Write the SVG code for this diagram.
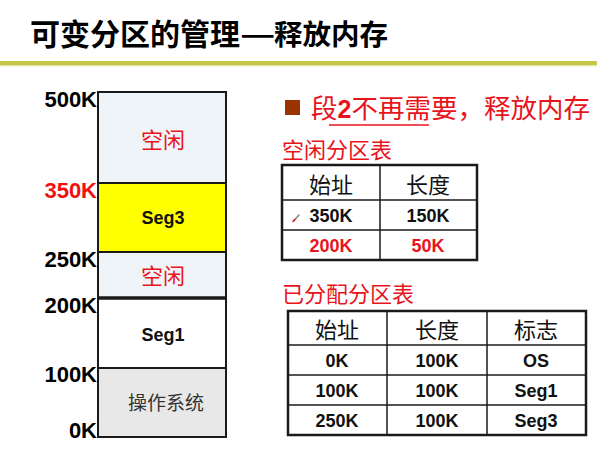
<svg xmlns="http://www.w3.org/2000/svg" width="597" height="468" viewBox="0 0 597 468">
  <style>
    .cjk { font-family: "Noto Sans CJK SC", "Liberation Sans", sans-serif; }
    .lat { font-family: "Liberation Sans", Arial, sans-serif; font-weight: bold; }
    .addr { font-size: 22px; text-anchor: end; }
    .blk { stroke: #1a1a1a; stroke-width: 2; }
    .cell { font-size: 18px; text-anchor: middle; }
    .head { font-size: 22px; text-anchor: middle; fill: #111; }
    .red { fill: #e8141b; }
    .grid { stroke: #1a1a1a; stroke-width: 1.5; fill: none; }
    .frame { stroke: #1a1a1a; stroke-width: 2.5; fill: #ffffff; }
  </style>

  <rect width="597" height="468" fill="#ffffff"/>

  <!-- Title and rule -->
  <g id="title" class="cjk" font-weight="bold" fill="#000">
    <text x="30" y="45" font-size="30">可变分区的管理</text>
    <text x="0" y="45" font-size="30" transform="translate(240 0) scale(1.3 1)">—</text>
    <text x="274" y="45" font-size="28.5">释放内存</text>
    <rect x="0" y="61" width="597" height="4" fill="#c3c646"/>
    <rect x="0" y="65" width="597" height="1.5" fill="#e6e8b4"/>
  </g>

  <!-- Memory map -->
  <g id="memory">
    <g id="free-top">
      <rect x="98" y="92" width="128" height="91" fill="#eef4f8" class="blk"/>
      <text x="163" y="148" class="cjk red" font-size="22" text-anchor="middle">空闲</text>
    </g>
    <g id="seg3">
      <rect x="98" y="183" width="128" height="69" fill="#ffff00" class="blk"/>
      <text x="163" y="224" class="lat cell" fill="#111">Seg3</text>
    </g>
    <g id="free-mid">
      <rect x="98" y="252" width="128" height="46" fill="#eef4f8" class="blk"/>
      <text x="163" y="284" class="cjk red" font-size="22" text-anchor="middle">空闲</text>
    </g>
    <g id="seg1">
      <rect x="98" y="298" width="128" height="70" fill="#ffffff" class="blk"/>
      <line x1="98" y1="298" x2="226" y2="298" stroke="#1a1a1a" stroke-width="3.5"/>
      <text x="163" y="341" class="lat cell" fill="#111">Seg1</text>
    </g>
    <g id="os">
      <rect x="98" y="368" width="128" height="69" fill="#e8e8e8" class="blk"/>
      <text x="166" y="410" class="cjk" font-size="19" text-anchor="middle" fill="#333">操作系统</text>
    </g>
  </g>

  <!-- Address labels -->
  <g id="addresses" class="lat addr">
    <text x="97" y="107" fill="#000">500K</text>
    <text x="97" y="198" fill="#f01010">350K</text>
    <text x="97" y="267" fill="#000">250K</text>
    <text x="97" y="313" fill="#000">200K</text>
    <text x="97" y="382" fill="#000">100K</text>
    <text x="97" y="438" fill="#000">0K</text>
  </g>

  <!-- Bullet heading -->
  <g id="bullet">
    <rect x="285" y="100" width="15" height="15" fill="#993300"/>
    <text x="311" y="118" class="cjk red" font-size="26.5"><tspan>段</tspan><tspan class="lat" font-size="25">2</tspan><tspan>不再需要，释放内存</tspan></text>
    <line x1="329" y1="125" x2="429" y2="125" stroke="#e8141b" stroke-width="1.5"/>
  </g>

  <!-- Free partition table -->
  <g id="free-table">
    <text x="282" y="158" class="cjk red" font-size="22">空闲分区表</text>
    <rect x="282" y="165" width="195" height="95" class="frame"/>
    <g class="grid">
      <line x1="380" y1="165" x2="380" y2="260"/>
      <line x1="282" y1="200" x2="477" y2="200"/>
      <line x1="282" y1="230" x2="477" y2="230"/>
    </g>
    <text x="331" y="193" class="cjk head">始址</text>
    <text x="428" y="193" class="cjk head">长度</text>
    <text x="331" y="222" class="lat cell" fill="#111">350K</text>
    <text x="428" y="222" class="lat cell" fill="#111">150K</text>
    <text x="331" y="252" class="lat cell red">200K</text>
    <text x="428" y="252" class="lat cell red">50K</text>
    <!-- pen cursor -->
    <line x1="293.5" y1="221" x2="299" y2="215" stroke="#8a8a8a" stroke-width="1.6" stroke-linecap="round"/>
    <line x1="293" y1="221.5" x2="295" y2="219.5" stroke="#e02020" stroke-width="1.6" stroke-linecap="round"/>
  </g>

  <!-- Allocated partition table -->
  <g id="alloc-table">
    <text x="282" y="302" class="cjk red" font-size="22">已分配分区表</text>
    <rect x="288" y="311" width="298" height="124" class="frame"/>
    <g class="grid">
      <line x1="387" y1="311" x2="387" y2="435"/>
      <line x1="487" y1="311" x2="487" y2="435"/>
      <line x1="288" y1="345" x2="586" y2="345"/>
      <line x1="288" y1="375" x2="586" y2="375"/>
      <line x1="288" y1="405" x2="586" y2="405"/>
    </g>
    <text x="337" y="338" class="cjk head">始址</text>
    <text x="437" y="338" class="cjk head">长度</text>
    <text x="536" y="338" class="cjk head">标志</text>
    <g class="lat cell" fill="#111">
      <text x="337" y="367">0K</text>
      <text x="437" y="367">100K</text>
      <text x="536" y="367">OS</text>
      <text x="337" y="397">100K</text>
      <text x="437" y="397">100K</text>
      <text x="536" y="397">Seg1</text>
      <text x="337" y="427">250K</text>
      <text x="437" y="427">100K</text>
      <text x="536" y="427">Seg3</text>
    </g>
  </g>
</svg>
